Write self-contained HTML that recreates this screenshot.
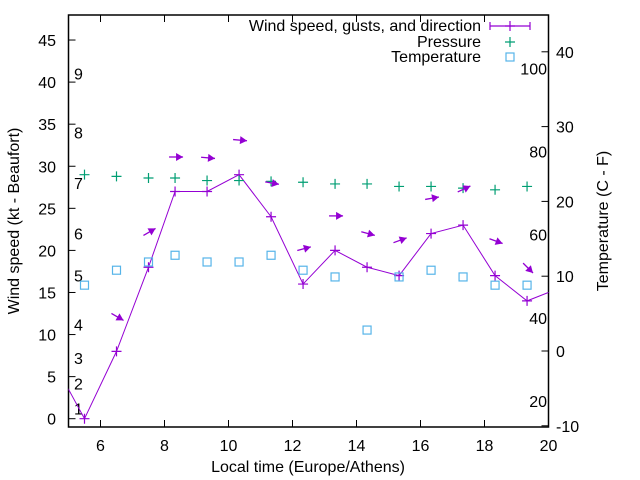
<!DOCTYPE html>
<html><head><meta charset="utf-8"><style>
body{margin:0;background:#fff}
svg{display:block;font-family:"Liberation Sans",sans-serif}
</style></head><body>
<svg id="chart" width="640" height="480" viewBox="0 0 640 480" xmlns="http://www.w3.org/2000/svg"></svg>
<script>
const times=[5.5,6.5,7.5,8.33,9.33,10.33,11.33,12.33,13.33,14.33,15.33,16.33,17.33,18.33,19.33];
const windKt=[0,8,18,27,27,29,24,16,20,18,17,22,23,17,14];
const lineTimes=[4.5,5.5,6.5,7.5,8.33,9.33,10.33,11.33,12.33,13.33,14.33,15.33,16.33,17.33,18.33,19.33,20.33];
const lineKt=[7,0,8,18,27,27,29,24,16,20,18,17,22,23,17,14,15.5];
const gustTimes=[6.5,7.5,8.33,9.33,10.33,11.33,12.33,13.33,14.33,15.33,16.33,17.33,18.33,19.33];
const gustKt=[12.1,22.2,31.1,31,33.1,28,20.2,24.1,22,21.2,26.2,27.3,21.1,17.9];
const dirDeg=[120,60,90,95,95,100,75,90,105,70,80,65,110,135];
const pressure=[29.0,28.8,28.6,28.6,28.3,28.3,28.2,28.1,27.9,27.9,27.6,27.6,27.4,27.2,27.6];
const tempC=[8.8,10.8,11.9,12.8,11.9,11.9,12.8,10.8,9.9,2.8,9.9,10.8,9.9,8.8,8.8];
const xTicks=[6,8,10,12,14,16,18,20];
const yTicks=[0,5,10,15,20,25,30,35,40,45];
const y2Ticks=[-10,0,10,20,30,40];
const fTicks=[20,40,60,80,100];
const beaufortLabels=["1","2","3","4","5","6","7","8","9"];
const beaufortKt=[1.2,4.2,7.2,11.2,17,22,28,34,41];

const L=68.5,R=548.5,T=15,B=427;
const X=t=>L+(t-5)*32;
const Y=v=>418.7-v*8.415;
const Y2=c=>351-c*7.48;
const NS="http://www.w3.org/2000/svg";
const svg=document.getElementById('chart');
function mk(tag,attrs,parent){const e=document.createElementNS(NS,tag);for(const k in attrs)e.setAttribute(k,attrs[k]);(parent||svg).appendChild(e);return e;}
function txt(s,x,y,anchor,name,extra){const e=mk('text',Object.assign({x:x,y:y,'text-anchor':anchor,'font-size':16,fill:'#000'},extra||{}));e.textContent=s;return e;}

const clip=mk('clipPath',{id:'pa'});mk('rect',{x:L,y:T,width:R-L,height:B-T},clip);

// axes frame
const frame=mk('rect',{x:L,y:T,width:R-L,height:B-T,fill:'none',stroke:'#000','stroke-width':1.5});


xTicks.forEach(t=>{
  const x=X(t);
  const a=mk('line',{x1:x,y1:B,x2:x,y2:B-7,stroke:'#000'});
  const b=mk('line',{x1:x,y1:T,x2:x,y2:T+7,stroke:'#000'});
  txt(String(t),x,451,'middle','x-tick-label');
});
yTicks.forEach(v=>{
  const y=Y(v);
  const a=mk('line',{x1:L,y1:y,x2:L+7,y2:y,stroke:'#000'});
  txt(String(v),56,y+6,'end','y-tick-label');
});
y2Ticks.forEach(c=>{
  const y=Y2(c);
  const a=mk('line',{x1:R,y1:y,x2:R-7,y2:y,stroke:'#000'});
  txt(String(c),556,y+6,'start','y2-tick-label');
});
fTicks.forEach(f=>{
  const y=Y2((f-32)*5/9);
  txt(String(f),547,y+6,'end','fahrenheit-label');
});
beaufortLabels.forEach((s,i)=>{txt(s,74,Y(beaufortKt[i])+6,'start','beaufort-label');});

txt('Local time (Europe/Athens)',308,472,'middle','x-axis-title');
txt('Wind speed (kt - Beaufort)',19,221,'middle','y-axis-title',{transform:'rotate(-90 19 221)'});
txt('Temperature (C - F)',608,221,'middle','y2-axis-title',{transform:'rotate(-90 608 221)'});

const g=mk('g',{'clip-path':'url(#pa)'});

const purple='#9400d3',green='#009e73',cyan='#56b4e9';
const pl=mk('polyline',{points:lineTimes.map((t,i)=>X(t)+','+Y(lineKt[i])).join(' '),fill:'none',stroke:purple,'stroke-width':1},g);

function plus(x,y,c,name,par){const p=mk('path',{d:`M${x-5},${y}h10M${x},${y-5}v10`,stroke:c,'stroke-width':1.2},par);}
times.forEach((t,i)=>plus(X(t),Y(windKt[i]),purple,'wind-point',g));
times.forEach((t,i)=>plus(X(t),Y(pressure[i]),green,'pressure-point',g));
times.forEach((t,i)=>{const x=X(t),y=Y2(tempC[i]);const r=mk('rect',{x:x-4,y:y-4,width:8,height:8,fill:'none',stroke:cyan,'stroke-width':1.2},g);});
gustTimes.forEach((t,i)=>{
  const cx=X(t)+1,cy=Y(gustKt[i]),a=dirDeg[i]*Math.PI/180,len=14;
  const dx=Math.sin(a),dy=-Math.cos(a);
  const x1=cx-dx*len/2,y1=cy-dy*len/2,x2=cx+dx*len/2,y2=cy+dy*len/2;
  const ag=mk('g',{},g);
  mk('line',{x1:x1,y1:y1,x2:x2,y2:y2,stroke:purple,'stroke-width':1.3},ag);
  const px=-dy,py=dx,h=7,w=4;
  mk('polygon',{points:`${x2},${y2} ${x2-dx*h+px*w},${y2-dy*h+py*w} ${x2-dx*h-px*w},${y2-dy*h-py*w}`,fill:purple},ag);
});

// legend
const lg=mk('g',{});
const l1=txt('Wind speed, gusts, and direction',481,31,'end','legend-wind-label');lg.appendChild(l1);
const l2=txt('Pressure',481,47,'end','legend-pressure-label');lg.appendChild(l2);
const l3=txt('Temperature',481,62,'end','legend-temperature-label');lg.appendChild(l3);
mk('path',{d:'M490,26h40M490,22v8M530,22v8',stroke:purple,'stroke-width':1.2},lg);
plus(510,26,purple,'legend-wind-sample',lg);
plus(510,42,green,'legend-pressure-sample',lg);
const ls=mk('rect',{x:506,y:53,width:8,height:8,fill:'none',stroke:cyan,'stroke-width':1.2},lg);
</script>
</body></html>
